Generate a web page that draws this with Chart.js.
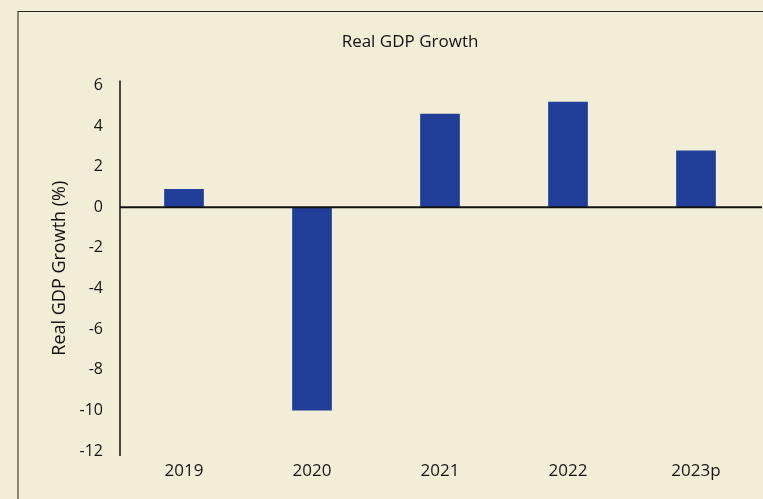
<!DOCTYPE html>
<html>
<head>
<meta charset="utf-8">
<script src="https://cdn.jsdelivr.net/npm/chart.js@4"></script>
<style>
  html, body { margin: 0; padding: 0; background: #f2edd6; overflow: hidden; }
  #frame {
    position: absolute; left: 17px; top: 11px; width: 800px; height: 600px;
    border-top: 1px solid #222; border-left: 2px solid #8b8672;
  }
  #wrap { position: absolute; left: 0; top: 0; width: 763px; height: 499px; }
</style>
</head>
<body>
<div id="frame"></div>
<div id="wrap"><canvas id="gdpChart" width="763" height="499"></canvas></div>
<script>
const years = ['2019', '2020', '2021', '2022', '2023p'];
const growth = [0.9, -10.0, 4.6, 5.2, 2.8];
const yMin = -12;
const yMax = 6;

const fontName = "'Open Sans', sans-serif";

// axis line and zero line
const axisLines = {
    id: 'axisLines',
    afterDatasetsDraw(chart) {
        const { ctx, chartArea, scales } = chart;
        const zero = scales.y.getPixelForValue(0);
        ctx.save();
        ctx.strokeStyle = '#111';
        ctx.lineWidth = 1.5;
        ctx.beginPath();
        ctx.moveTo(chartArea.left, chartArea.top - 5);
        ctx.lineTo(chartArea.left, chartArea.bottom + 5);
        ctx.stroke();
        ctx.lineWidth = 2;
        ctx.beginPath();
        ctx.moveTo(chartArea.left, zero);
        ctx.lineTo(chartArea.right + 2, zero);
        ctx.stroke();
        ctx.restore();
    }
};

const ctx = document.getElementById('gdpChart').getContext('2d');
const gdpChart = new Chart(ctx, {
    type: 'bar',
    data: {
        labels: years,
        datasets: [{
            label: 'Real GDP Growth',
            data: growth,
            backgroundColor: '#213f98',
            barPercentage: 0.31,
            categoryPercentage: 1.0,
        }]
    },
    options: {
        responsive: false,
        animation: false,
        layout: {
            padding: { top: 32, left: 60, right: 3, bottom: 0 }
        },
        plugins: {
            legend: { display: false },
            tooltip: { enabled: false },
            title: {
                display: true,
                text: 'Real GDP Growth',
                color: '#111',
                font: { family: fontName, size: 17, weight: 500 },
                padding: { top: 0, bottom: 33 }
            }
        },
        scales: {
            x: {
                grid: { display: false, drawTicks: false },
                border: { display: false },
                ticks: {
                    color: '#151515',
                    font: { family: fontName, size: 17, weight: 500 },
                    padding: 10,
                    maxRotation: 0
                },
                afterFit: (scale) => { scale.height = 48; }
            },
            y: {
                min: yMin,
                max: yMax,
                grid: { display: false, drawTicks: false },
                border: { display: false },
                ticks: {
                    stepSize: 2,
                    color: '#151515',
                    font: { family: fontName, size: 16, weight: 500 },
                    padding: 17
                },
                title: {
                    display: true,
                    text: 'Real GDP Growth (%)',
                    color: '#111',
                    font: { family: fontName, size: 18, weight: 500 },
                    padding: { top: -11, bottom: 0 }
                },
                afterFit: (scale) => { scale.width = 60; }
            }
        }
    },
    plugins: [axisLines]
});
</script>
</body>
</html>
